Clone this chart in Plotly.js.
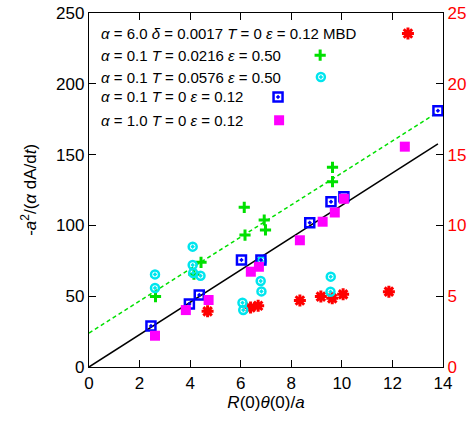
<!DOCTYPE html>
<html><head><meta charset="utf-8">
<script src="https://cdn.plot.ly/plotly-3.0.1.min.js"></script>
<style>body{margin:0;background:#fff}#c{width:474px;height:424px}</style>
</head><body><div id="c"></div>
<script>
// MBD (right axis, 0-25)
const mbdX = [4.69, 6.39, 6.69, 8.34, 9.17, 9.62, 10.05, 11.86];
const mbdY = [3.93, 4.20, 4.33, 4.70, 4.97, 4.85, 5.13, 5.32];
// alpha=0.1 T=0.0216 eps=0.50
const gX = [2.63, 4.15, 4.43, 6.14, 6.17, 6.93, 6.98, 9.63, 9.63];
const gY = [49.7, 65.5, 73.9, 112.8, 93.2, 103.8, 96.8, 141.0, 130.9];
// alpha=0.1 T=0.0576 eps=0.50
const cX = [2.61, 2.61, 4.10, 4.10, 4.12, 4.41, 6.07, 6.10, 6.84, 6.79, 6.82, 9.56, 9.55];
const cY = [65.4, 55.8, 85.0, 72.0, 66.4, 64.4, 45.4, 40.2, 74.8, 60.7, 53.4, 63.8, 53.2];
// alpha=0.1 T=0 eps=0.12
const bX = [2.45, 3.97, 4.36, 6.03, 6.80, 8.73, 9.57, 10.08, 13.80];
const bY = [29.0, 44.5, 50.8, 75.6, 75.6, 101.9, 116.7, 120.3, 181.0];
// alpha=1.0 T=0 eps=0.12
const mX = [2.61, 3.83, 4.73, 6.40, 6.72, 8.34, 9.24, 9.72, 10.08, 12.49];
const mY = [22.1, 40.2, 47.3, 67.3, 70.8, 89.5, 102.6, 109.1, 118.8, 155.6];
// fit lines
const fitX = [0, 13.8];
const blackFitY = [0, 157.5];
const greenFitY = [24.0, 180.0];
// ticks
const xTicks = [0, 2, 4, 6, 8, 10, 12, 14];
const yTicks = [0, 50, 100, 150, 200, 250];
const y2Ticks = [0, 5, 10, 15, 20, 25];
const legendLabels = [
  "<i>α</i> = 6.0 <i>δ</i> = 0.0017 <i>T</i> = 0 <i>ε</i> = 0.12 MBD",
  "<i>α</i> = 0.1 <i>T</i> = 0.0216 <i>ε</i> = 0.50",
  "<i>α</i> = 0.1 <i>T</i> = 0.0576 <i>ε</i> = 0.50",
  "<i>α</i> = 0.1 <i>T</i> = 0 <i>ε</i> = 0.12",
  "<i>α</i> = 1.0 <i>T</i> = 0 <i>ε</i> = 0.12"
];

// styles
const FONT = "Liberation Sans, Arial, sans-serif";
const styles = [
  {symbol: "asterisk-open", size: 10, color: "#ff0000", lw: 3},
  {symbol: "cross-thin-open", size: 8, color: "#00e000", lw: 3},
  {symbol: "circle-open-dot", size: 8, color: "#00e5ee", lw: 2.5},
  {symbol: "square-open-dot", size: 9, color: "#0000ff", lw: 2.5},
  {symbol: "square", size: 10, color: "#ff00ff", lw: 0}
];
function mk(i) {
  const s = styles[i];
  return {symbol: s.symbol, size: s.size, color: s.color,
          line: {color: s.color, width: s.lw}};
}
// legend key placement (paper-like overlay axis)
const keyX = [0.901, 0.653, 0.655, 0.534, 0.537];
const keyY = [0.942, 0.881, 0.819, 0.763, 0.697];

const traces = [
  {x: mbdX, y: mbdY, xaxis: "x", yaxis: "y", mode: "markers", marker: mk(0), showlegend: false},
  {x: fitX, y: blackFitY, xaxis: "x", yaxis: "y2", mode: "lines", line: {color: "#000", width: 1.5}, showlegend: false},
  {x: fitX, y: greenFitY, xaxis: "x", yaxis: "y2", mode: "lines", line: {color: "#00e000", width: 1.5, dash: "4px,3px"}, showlegend: false},
  {x: gX, y: gY, xaxis: "x", yaxis: "y2", mode: "markers", marker: mk(1), showlegend: false},
  {x: cX, y: cY, xaxis: "x", yaxis: "y2", mode: "markers", marker: mk(2), showlegend: false},
  {x: bX, y: bY, xaxis: "x", yaxis: "y2", mode: "markers", marker: mk(3), showlegend: false},
  {x: mX, y: mY, xaxis: "x", yaxis: "y2", mode: "markers", marker: mk(4), showlegend: false}
];
for (let i = 0; i < 5; i++) {
  traces.push({x: [keyX[i]], y: [keyY[i]], xaxis: "x3", yaxis: "y3", mode: "markers",
    marker: mk(i), showlegend: false, hoverinfo: "skip"});
}

const annotations = legendLabels.map((t, i) => ({
  text: t, xref: "paper", yref: "paper", x: 0.028, y: keyY[i],
  xanchor: "left", yanchor: "middle", showarrow: false,
  font: {family: FONT, size: 15, color: "#000"}
}));
annotations.push({
  text: "-<i>a</i><sup>2</sup>/(<i>α</i> dA/d<i>t</i>)", textangle: -90,
  xref: "paper", yref: "paper", x: -0.17, y: 0.5, xanchor: "center", yanchor: "middle",
  showarrow: false, font: {family: FONT, size: 17, color: "#000"}
});

const axCommon = {ticks: "inside", ticklen: 7, tickwidth: 1, tickcolor: "#000",
  showline: true, linecolor: "#000", linewidth: 1.2, showgrid: false, zeroline: false,
  tickfont: {family: FONT, size: 17, color: "#000"}};

const layout = {
  width: 474, height: 424,
  margin: {l: 89, r: 31, t: 13, b: 57},
  paper_bgcolor: "#fff", plot_bgcolor: "#fff",
  showlegend: false,
  xaxis: Object.assign({}, axCommon, {range: [0, 14], tickvals: xTicks, mirror: "ticks",
    title: {text: "<i>R</i>(0)<i>θ</i>(0)/<i>a</i>", font: {family: FONT, size: 17, color: "#000"}, standoff: 4}}),
  yaxis: Object.assign({}, axCommon, {range: [0, 25], tickvals: y2Ticks, side: "right",
    tickfont: {family: FONT, size: 17, color: "#ff0000"}}),
  yaxis2: Object.assign({}, axCommon, {range: [0, 250], tickvals: yTicks, side: "left", overlaying: "y"}),
  xaxis3: {range: [0, 1], overlaying: "x", visible: false, anchor: "y3"},
  yaxis3: {range: [0, 1], overlaying: "y", visible: false, anchor: "x3"},
  annotations: annotations
};

Plotly.newPlot("c", traces, layout, {staticPlot: true, displayModeBar: false});
</script></body></html>
